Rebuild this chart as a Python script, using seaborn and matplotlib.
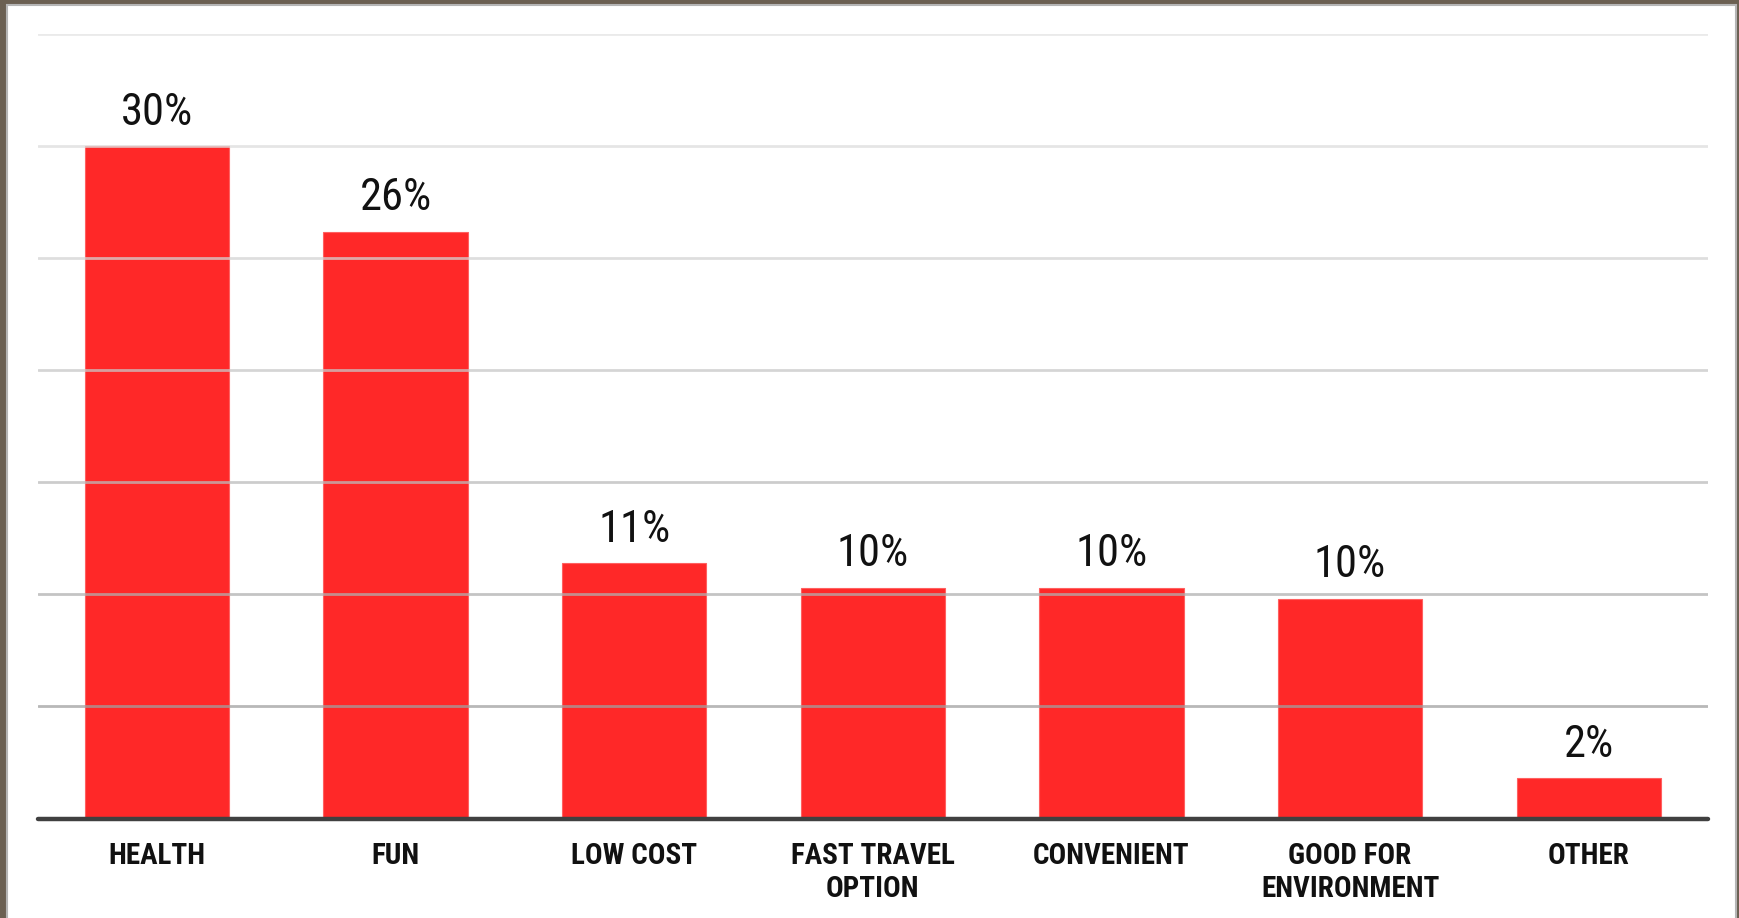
import matplotlib
matplotlib.use("Agg")
import matplotlib.pyplot as plt
import seaborn as sns
import pandas as pd
from matplotlib import font_manager as fm
from matplotlib.patches import Rectangle

categories = ["HEALTH", "FUN", "LOW COST", "FAST TRAVEL\nOPTION", "CONVENIENT",
              "GOOD FOR\nENVIRONMENT", "OTHER"]
values = [30.0, 26.2, 11.4, 10.3, 10.3, 9.8, 1.8]
value_labels = ["30%", "26%", "11%", "10%", "10%", "10%", "2%"]
grid_ticks = [5, 10, 15, 20, 25, 30, 35]

names = sorted({f.name for f in fm.fontManager.ttflist})
narrow = None
for cand in ["Roboto Condensed", "Liberation Sans Narrow", "Open Sans Condensed",
             "Noto Sans Condensed", "DejaVu Sans Condensed"]:
    if cand in names:
        narrow = cand
        break

sns.set_theme(style="white")
fam = [narrow, "DejaVu Sans"] if narrow else ["DejaVu Sans"]
plt.rcParams["font.family"] = fam

df = pd.DataFrame({"category": categories, "value": values})

fig = plt.figure(figsize=(17.39, 9.18), dpi=100, facecolor="#6b6052")
panel = Rectangle((7 / 1739, -0.05), (1736 - 7) / 1739, 1.05 - 5 / 918,
                  transform=fig.transFigure, facecolor="white",
                  edgecolor="#b5b5b5", linewidth=1.5, zorder=-10)
fig.patches.append(panel)
ax = fig.add_axes([37.7 / 1739, 1 - 818.5 / 918, (1708 - 37.7) / 1739, (818.5 - 34.4) / 918])
ax.set_facecolor("none")
ax.set_zorder(5)

sns.barplot(data=df, x="category", y="value", color="#ff2828", saturation=1,
            width=0.605, edgecolor="#ff6060", linewidth=0.8, ax=ax, zorder=2)

ax.set_xlim(-0.5, len(categories) - 0.5)
ax.set_ylim(0, 35)
grid_colors = ["#a0a0a0", "#b0b0b0", "#bcbcbc", "#c8c8c8", "#d4d4d4", "#dddddd", "#e4e4e4"]
for t, c in zip(grid_ticks, grid_colors):
    ax.axhline(t, color=c, lw=2, zorder=3, alpha=0.75)
ax.axhline(0, color="#404040", lw=3.2, zorder=4, clip_on=False)

ax.set_yticks([])
ax.set_xlabel("")
ax.set_ylabel("")
for s in ax.spines.values():
    s.set_visible(False)

ax.bar_label(ax.containers[0], labels=value_labels, padding=9, fontsize=32,
             fontweight="normal", color="#111111", family=fam)
ax.tick_params(axis="x", length=0, pad=17)
ax.set_xticks(range(len(categories)))
ax.set_xticklabels(categories, fontsize=21, fontweight="semibold", color="#111111",
                   linespacing=1.2, va="top")

fig.savefig("out.png", dpi=100, facecolor=fig.get_facecolor())
